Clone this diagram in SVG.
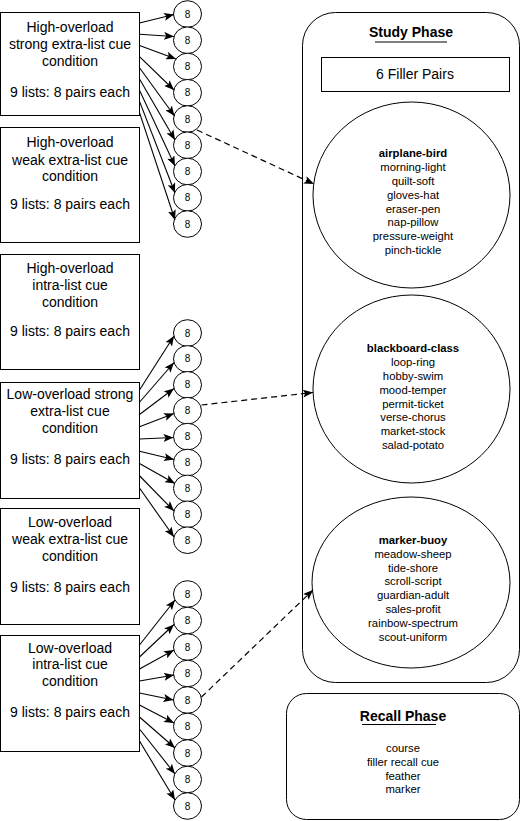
<svg xmlns="http://www.w3.org/2000/svg" width="521" height="821" viewBox="0 0 521 821">
<style>
.box{fill:#fff;stroke:#000;stroke-width:1}
.sc{fill:#fff;stroke:#000;stroke-width:1}
.t{font-family:"Liberation Sans",Arial,sans-serif;font-size:14px;fill:#000;text-anchor:middle}
.n{font-family:"Liberation Sans",Arial,sans-serif;font-size:10px;fill:#000;text-anchor:middle}
.w{font-family:"Liberation Sans",Arial,sans-serif;font-size:11.3px;fill:#000;text-anchor:middle}
.b{font-weight:bold}
.e{fill:none;stroke:#000;stroke-width:1.1;marker-end:url(#ah)}
.d{fill:none;stroke:#000;stroke-width:1.2;stroke-dasharray:6 4;marker-end:url(#ah)}
</style>
<defs>
<marker id="ah" markerUnits="userSpaceOnUse" markerWidth="10" markerHeight="8" viewBox="0 0 10 8" refX="10" refY="4" orient="auto">
<path d="M0,0 L10,4 L0,8 L2.2,4 Z" fill="#000"/>
</marker>
</defs>
<rect width="521" height="821" fill="#fff"/>

<g id="study-phase">
<rect class="box" x="302.5" y="12.5" width="217" height="670" rx="33"/>
<text class="t b" x="411" y="37">Study Phase</text>
<line x1="375" y1="42" x2="447" y2="42" stroke="#000" stroke-width="1"/>
</g>
<g id="filler-pairs">
<rect class="box" x="321.5" y="57.5" width="188" height="34"/>
<text class="t" x="415" y="79">6 Filler Pairs</text>
</g>
<g id="list-airplane">
<ellipse class="sc" cx="411.5" cy="195" rx="98.5" ry="93"/>
<text class="w b" x="413" y="157">airplane-bird</text>
<text class="w" x="413" y="171">morning-light</text>
<text class="w" x="413" y="185">quilt-soft</text>
<text class="w" x="413" y="199">gloves-hat</text>
<text class="w" x="413" y="213">eraser-pen</text>
<text class="w" x="413" y="226">nap-pillow</text>
<text class="w" x="413" y="240">pressure-weight</text>
<text class="w" x="413" y="254">pinch-tickle</text>
</g>
<g id="list-blackboard">
<ellipse class="sc" cx="411.5" cy="389" rx="98.5" ry="94"/>
<text class="w b" x="413" y="352">blackboard-class</text>
<text class="w" x="413" y="366">loop-ring</text>
<text class="w" x="413" y="380">hobby-swim</text>
<text class="w" x="413" y="394">mood-temper</text>
<text class="w" x="413" y="408">permit-ticket</text>
<text class="w" x="413" y="421">verse-chorus</text>
<text class="w" x="413" y="435">market-stock</text>
<text class="w" x="413" y="449">salad-potato</text>
</g>
<g id="list-marker">
<ellipse class="sc" cx="411" cy="582.5" rx="99" ry="85.5"/>
<text class="w b" x="413" y="543.5">marker-buoy</text>
<text class="w" x="413" y="557.5">meadow-sheep</text>
<text class="w" x="413" y="571.5">tide-shore</text>
<text class="w" x="413" y="585">scroll-script</text>
<text class="w" x="413" y="599">guardian-adult</text>
<text class="w" x="413" y="613">sales-profit</text>
<text class="w" x="413" y="627">rainbow-spectrum</text>
<text class="w" x="413" y="641">scout-uniform</text>
</g>
<g id="recall-phase">
<rect class="box" x="286.5" y="693.5" width="233" height="126" rx="20"/>
<text class="t b" x="403" y="721">Recall Phase</text>
<line x1="362" y1="724.5" x2="436" y2="724.5" stroke="#000" stroke-width="1"/>
<text class="w" x="403" y="752">course</text>
<text class="w" x="403" y="766">filler recall cue</text>
<text class="w" x="403" y="780">feather</text>
<text class="w" x="403" y="793">marker</text>
</g>

<g id="cond-1">
<rect class="box" x="0.5" y="12.5" width="139" height="103"/>
<text class="t" x="70" y="32">High-overload</text>
<text class="t" x="70" y="49">strong extra-list cue</text>
<text class="t" x="70" y="66">condition</text>
<text class="t" x="70" y="97">9 lists: 8 pairs each</text>
</g>
<g id="cond-2">
<rect class="box" x="0.5" y="127.5" width="139" height="115"/>
<text class="t" x="70" y="147">High-overload</text>
<text class="t" x="70" y="165">weak extra-list cue</text>
<text class="t" x="70" y="181">condition</text>
<text class="t" x="70" y="209">9 lists: 8 pairs each</text>
</g>
<g id="cond-3">
<rect class="box" x="0.5" y="254.5" width="139" height="115"/>
<text class="t" x="70" y="273">High-overload</text>
<text class="t" x="70" y="290">intra-list cue</text>
<text class="t" x="70" y="307">condition</text>
<text class="t" x="70" y="336">9 lists: 8 pairs each</text>
</g>
<g id="cond-4">
<rect class="box" x="0.5" y="382.5" width="139" height="116"/>
<text class="t" x="70" y="399">Low-overload strong</text>
<text class="t" x="70" y="416">extra-list cue</text>
<text class="t" x="70" y="433">condition</text>
<text class="t" x="70" y="464">9 lists: 8 pairs each</text>
</g>
<g id="cond-5">
<rect class="box" x="0.5" y="508.5" width="139" height="116"/>
<text class="t" x="70" y="527">Low-overload</text>
<text class="t" x="70" y="544">weak extra-list cue</text>
<text class="t" x="70" y="561">condition</text>
<text class="t" x="70" y="592">9 lists: 8 pairs each</text>
</g>
<g id="cond-6">
<rect class="box" x="0.5" y="635.5" width="139" height="116"/>
<text class="t" x="70" y="653">Low-overload</text>
<text class="t" x="70" y="669">intra-list cue</text>
<text class="t" x="70" y="686">condition</text>
<text class="t" x="70" y="717">9 lists: 8 pairs each</text>
</g>

<g id="lists-a">
<ellipse class="sc" cx="187.5" cy="14" rx="14" ry="13.3"/><text class="n" x="187.5" y="17.5">8</text>
<ellipse class="sc" cx="187.5" cy="40.25" rx="14" ry="13.3"/><text class="n" x="187.5" y="43.75">8</text>
<ellipse class="sc" cx="187.5" cy="66.5" rx="14" ry="13.3"/><text class="n" x="187.5" y="70">8</text>
<ellipse class="sc" cx="187.5" cy="92.75" rx="14" ry="13.3"/><text class="n" x="187.5" y="96.25">8</text>
<ellipse class="sc" cx="187.5" cy="119" rx="14" ry="13.3"/><text class="n" x="187.5" y="122.5">8</text>
<ellipse class="sc" cx="187.5" cy="145.25" rx="14" ry="13.3"/><text class="n" x="187.5" y="148.75">8</text>
<ellipse class="sc" cx="187.5" cy="171.5" rx="14" ry="13.3"/><text class="n" x="187.5" y="175">8</text>
<ellipse class="sc" cx="187.5" cy="197.75" rx="14" ry="13.3"/><text class="n" x="187.5" y="201.25">8</text>
<ellipse class="sc" cx="187.5" cy="224" rx="14" ry="13.3"/><text class="n" x="187.5" y="227.5">8</text>
</g>
<g id="lists-b">
<ellipse class="sc" cx="187.5" cy="333" rx="14" ry="13.3"/><text class="n" x="187.5" y="336.5">8</text>
<ellipse class="sc" cx="187.5" cy="358.9" rx="14" ry="13.3"/><text class="n" x="187.5" y="362.4">8</text>
<ellipse class="sc" cx="187.5" cy="384.8" rx="14" ry="13.3"/><text class="n" x="187.5" y="388.3">8</text>
<ellipse class="sc" cx="187.5" cy="410.7" rx="14" ry="13.3"/><text class="n" x="187.5" y="414.2">8</text>
<ellipse class="sc" cx="187.5" cy="436.6" rx="14" ry="13.3"/><text class="n" x="187.5" y="440.1">8</text>
<ellipse class="sc" cx="187.5" cy="462.5" rx="14" ry="13.3"/><text class="n" x="187.5" y="466">8</text>
<ellipse class="sc" cx="187.5" cy="488.4" rx="14" ry="13.3"/><text class="n" x="187.5" y="491.9">8</text>
<ellipse class="sc" cx="187.5" cy="514.3" rx="14" ry="13.3"/><text class="n" x="187.5" y="517.8">8</text>
<ellipse class="sc" cx="187.5" cy="540.2" rx="14" ry="13.3"/><text class="n" x="187.5" y="543.7">8</text>
</g>
<g id="lists-c">
<ellipse class="sc" cx="187.5" cy="594" rx="14" ry="13.3"/><text class="n" x="187.5" y="597.5">8</text>
<ellipse class="sc" cx="187.5" cy="620.5" rx="14" ry="13.3"/><text class="n" x="187.5" y="624">8</text>
<ellipse class="sc" cx="187.5" cy="647" rx="14" ry="13.3"/><text class="n" x="187.5" y="650.5">8</text>
<ellipse class="sc" cx="187.5" cy="673.5" rx="14" ry="13.3"/><text class="n" x="187.5" y="677">8</text>
<ellipse class="sc" cx="187.5" cy="700" rx="14" ry="13.3"/><text class="n" x="187.5" y="703.5">8</text>
<ellipse class="sc" cx="187.5" cy="726.5" rx="14" ry="13.3"/><text class="n" x="187.5" y="730">8</text>
<ellipse class="sc" cx="187.5" cy="753" rx="14" ry="13.3"/><text class="n" x="187.5" y="756.5">8</text>
<ellipse class="sc" cx="187.5" cy="779.5" rx="14" ry="13.3"/><text class="n" x="187.5" y="783">8</text>
<ellipse class="sc" cx="187.5" cy="806" rx="14" ry="13.3"/><text class="n" x="187.5" y="809.5">8</text>
</g>

<g id="connectors">
<path class="e" d="M139.5,23 L174,14.5"/>
<path class="e" d="M139.5,34.2 L174,36.5"/>
<path class="e" d="M139.5,45.4 L176,59"/>
<path class="e" d="M139.5,56.6 L174,90"/>
<path class="e" d="M139.5,67.8 L174.5,116"/>
<path class="e" d="M139.5,79 L175,140"/>
<path class="e" d="M139.5,90.2 L175,166"/>
<path class="e" d="M139.5,101.4 L175,193"/>
<path class="e" d="M139.5,112.6 L175,220"/>

<path class="e" d="M139.5,390 L174,336"/>
<path class="e" d="M139.5,402.25 L174,362.5"/>
<path class="e" d="M139.5,414.5 L174,388.5"/>
<path class="e" d="M139.5,426.75 L174,413.5"/>
<path class="e" d="M139.5,439 L173.5,437.5"/>
<path class="e" d="M139.5,451.25 L174,459.5"/>
<path class="e" d="M139.5,463.5 L175,483.5"/>
<path class="e" d="M139.5,475.75 L174,511"/>
<path class="e" d="M139.5,488 L174,537"/>

<path class="e" d="M139.5,645 L175,600"/>
<path class="e" d="M139.5,657 L174,624.5"/>
<path class="e" d="M139.5,669 L174,650"/>
<path class="e" d="M139.5,681 L174,675"/>
<path class="e" d="M139.5,693 L173.5,700"/>
<path class="e" d="M139.5,705 L174,723"/>
<path class="e" d="M139.5,717 L175,748"/>
<path class="e" d="M139.5,729 L175,774"/>
<path class="e" d="M139.5,741 L175,800"/>

<path class="d" d="M197,130 L314,184"/>
<path class="d" d="M201.5,405 L313,392.5"/>
<path class="d" d="M201.5,697 L313,590"/>
</g>
</svg>
